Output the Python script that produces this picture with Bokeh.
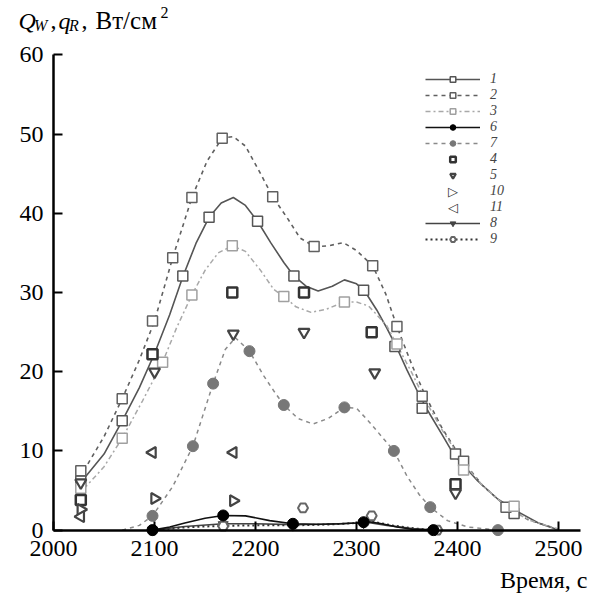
from bokeh.plotting import figure
from bokeh.models import Range1d, FixedTicker, Label, Legend, LegendItem
from bokeh.embed import file_html
from bokeh.resources import INLINE
import math

# ---------------- data ----------------
# smooth curves (sampled by eye)
c1_t = [2030, 2050, 2068, 2085, 2100, 2115, 2128, 2141, 2154, 2166, 2178, 2190, 2202, 2215, 2228, 2238,
        2250, 2262, 2276, 2288, 2300, 2308, 2320, 2330, 2340, 2350, 2360, 2370, 2385, 2396, 2420, 2440,
        2460, 2480, 2500]
c1_v = [6.5, 9.6, 13.8, 18.0, 22.3, 27.2, 32.0, 36.2, 39.5, 41.3, 42.0, 41.0, 39.0, 36.3, 33.8, 32.1,
        30.8, 30.2, 30.8, 31.6, 31.1, 30.2, 27.8, 25.5, 23.0, 20.2, 17.6, 15.2, 12.0, 9.6, 6.2, 3.9,
        2.3, 0.9, 0.0]
c2_t = [2030, 2050, 2068, 2085, 2100, 2118, 2137, 2152, 2167, 2178, 2190, 2205, 2217, 2232, 2244, 2258,
        2272, 2287, 2300, 2316, 2329, 2340, 2355, 2368, 2385, 2405, 2425, 2448, 2470, 2500]
c2_v = [7.5, 11.8, 16.6, 21.5, 26.4, 34.4, 42.0, 46.6, 49.5, 49.7, 48.5, 45.0, 42.1, 39.3, 36.9, 35.8,
        35.9, 36.3, 35.3, 33.4, 29.8, 25.7, 20.8, 17.0, 12.8, 8.8, 5.6, 3.0, 1.3, 0.1]
c3_t = [2030, 2050, 2068, 2088, 2108, 2122, 2137, 2150, 2163, 2177, 2190, 2205, 2218, 2228, 2240, 2255,
        2270, 2288, 2300, 2312, 2330, 2340, 2355, 2368, 2385, 2405, 2425, 2448, 2470, 2500]
c3_v = [5.2, 8.0, 11.6, 16.3, 21.2, 25.6, 29.7, 32.8, 35.0, 35.9, 35.2, 32.8, 30.4, 29.5, 28.2, 27.5,
        27.9, 28.8, 28.8, 28.3, 25.8, 23.4, 19.8, 16.4, 12.6, 8.6, 5.6, 3.0, 1.3, 0.1]
c6_t = [2098, 2115, 2130, 2150, 2168, 2190, 2214, 2237, 2260, 2285, 2300, 2310, 2325, 2340, 2355, 2376]
c6_v = [0.0, 0.4, 0.9, 1.5, 1.85, 1.8, 1.2, 0.8, 0.75, 0.8, 0.9, 1.1, 0.8, 0.4, 0.1, 0.0]
c7_t = [2068, 2085, 2098, 2118, 2138, 2158, 2170, 2180, 2194, 2208, 2218, 2228, 2242, 2257, 2272, 2288,
        2300, 2313, 2325, 2337, 2350, 2362, 2373, 2390, 2410, 2440]
c7_v = [0.0, 0.6, 1.8, 5.5, 10.6, 18.5, 22.8, 24.3, 22.6, 19.5, 17.6, 15.8, 14.1, 13.4, 14.1, 15.5,
        15.4, 13.6, 11.8, 10.0, 6.8, 4.5, 2.9, 1.2, 0.4, 0.0]
c8_t = [2098, 2130, 2168, 2200, 2237, 2270, 2300, 2310, 2330, 2355, 2378]
c8_v = [0.0, 0.45, 0.8, 0.8, 0.7, 0.75, 0.9, 1.0, 0.6, 0.2, 0.0]
c9_t = [2098, 2130, 2168, 2200, 2237, 2270, 2300, 2315, 2335, 2358, 2380]
c9_v = [0.0, 0.35, 0.55, 0.6, 0.6, 0.7, 0.9, 1.1, 0.6, 0.2, 0.0]

# measured points
m1_t = [2027, 2068, 2098, 2128, 2154, 2202, 2238, 2307, 2338, 2365, 2398, 2456]
m1_v = [6.2, 13.8, 22.2, 32.1, 39.5, 39.0, 32.1, 30.3, 23.2, 15.4, 9.6, 2.1]
m2_t = [2027, 2068, 2098, 2118, 2137, 2167, 2217, 2258, 2316, 2340, 2365, 2406, 2448]
m2_v = [7.5, 16.6, 26.4, 34.4, 42.0, 49.5, 42.1, 35.8, 33.4, 25.7, 16.9, 8.7, 2.9]
m3_t = [2027, 2068, 2108, 2137, 2177, 2228, 2288, 2340, 2406, 2456]
m3_v = [5.3, 11.6, 21.2, 29.7, 35.9, 29.5, 28.8, 23.5, 7.6, 3.0]
m6_t = [2098, 2168, 2237, 2307, 2376]
m6_v = [0.0, 1.85, 0.8, 1.0, 0.0]
m7_t = [2098, 2138, 2158, 2194, 2228, 2288, 2337, 2373, 2440]
m7_v = [1.8, 10.6, 18.5, 22.6, 15.8, 15.5, 10.0, 2.9, 0.0]
m4_t = [2027, 2098, 2177, 2248, 2315, 2398]
m4_v = [3.8, 22.2, 30.0, 30.0, 25.0, 5.8]
m5_t = [2027, 2100, 2178, 2248, 2318, 2398]
m5_v = [6.0, 20.0, 24.8, 25.0, 19.9, 4.7]
m10_t = [2027, 2100, 2178]
m10_v = [2.6, 4.0, 3.7]
m11_t = [2027, 2098, 2178]
m11_v = [1.7, 9.8, 9.8]
m8_t = [2098, 2168, 2237, 2307, 2378]
m8_v = [0.0, 0.7, 0.6, 0.9, 0.0]
m9_t = [2098, 2168, 2247, 2315, 2380]
m9_v = [0.0, 0.5, 2.8, 1.8, 0.0]

x_ticks = [2000, 2100, 2200, 2300, 2400, 2500]
y_ticks = [0, 10, 20, 30, 40, 50, 60]

# ---------------- figure ----------------
SERIF = "Liberation Serif"
W = H = 594
p = figure(width=W, height=H, output_backend="svg", toolbar_location=None,
           x_range=Range1d(1947.5, 2535.6), y_range=Range1d(-8.13, 66.88),
           min_border_left=0, min_border_right=0, min_border_top=0, min_border_bottom=0)
p.outline_line_color = None
p.grid.visible = False
p.background_fill_color = "white"
p.border_fill_color = "white"

for ax in (p.xaxis, p.yaxis):
    ax.axis_line_width = 2.5
    ax.axis_line_color = "black"
    ax.major_tick_line_width = 2
    ax.major_tick_line_color = "black"
    ax.major_tick_in = 9
    ax.major_tick_out = 0
    ax.minor_tick_line_color = None
    ax.major_label_text_font = SERIF
    ax.major_label_text_font_size = "24px"
    ax.major_label_text_color = "black"
p.xaxis.ticker = FixedTicker(ticks=x_ticks)
p.yaxis.ticker = FixedTicker(ticks=y_ticks)
p.xaxis.fixed_location = 0
p.yaxis.fixed_location = 2000
p.xaxis.bounds = (2000, 2522)
p.yaxis.bounds = (0, 60)
p.xaxis.major_label_standoff = 11
p.yaxis.major_label_standoff = 10

# ---------------- series ----------------
r1l = p.line(c1_t, c1_v, line_color="#555555", line_width=1.6)
r2l = p.line(c2_t, c2_v, line_color="#606060", line_width=1.6, line_dash="4 4")
r3l = p.line(c3_t, c3_v, line_color="#a8a8a8", line_width=1.5, line_dash="5 3 2 3")
r7l = p.line(c7_t, c7_v, line_color="#8a8a8a", line_width=1.5, line_dash="4 4")
r8l = p.line(c8_t, c8_v, line_color="#444444", line_width=1.6)
r9l = p.line(c9_t, c9_v, line_color="#333333", line_width=2, line_dash="2 3")
r6l = p.line(c6_t, c6_v, line_color="#111111", line_width=1.6)

r1m = p.scatter(m1_t, m1_v, marker="square", size=10, fill_color="white", line_color="#555555", line_width=1.5)
r2m = p.scatter(m2_t, m2_v, marker="square", size=10, fill_color="white", line_color="#606060", line_width=1.5)
r3m = p.scatter(m3_t, m3_v, marker="square", size=10, fill_color="white", line_color="#a0a0a0", line_width=1.5)
r4m = p.scatter(m4_t, m4_v, marker="square", size=10, fill_color="white", line_color="#333333", line_width=2.5)
r5m = p.scatter(m5_t, m5_v, marker="inverted_triangle", size=11, fill_color="white", line_color="#444444", line_width=2.2)
r10m = p.scatter(m10_t, m10_v, marker="triangle", angle=-math.pi / 2, size=11, fill_color="white",
                 line_color="#444444", line_width=2.2)
r11m = p.scatter(m11_t, m11_v, marker="triangle", angle=math.pi / 2, size=11, fill_color="white",
                 line_color="#444444", line_width=2.2)
r7m = p.scatter(m7_t, m7_v, marker="circle", size=11, fill_color="#777777", line_color="#777777")
r8m = p.scatter(m8_t, m8_v, marker="inverted_triangle", size=10, fill_color="#444444", line_color="#444444")
r9m = p.scatter(m9_t, m9_v, marker="hex", size=10, fill_color="white", line_color="#666666", line_width=2)
r6m = p.scatter(m6_t, m6_v, marker="circle", size=11, fill_color="black", line_color="black")
# invisible stand-ins for the rotated triangles in the legend (legend ignores marker angle)
r10d = p.scatter(m10_t, m10_v, size=1, fill_alpha=0, line_alpha=0)
r11d = p.scatter(m11_t, m11_v, size=1, fill_alpha=0, line_alpha=0)

LEG_X, LEG_TOP, ROW = 425, 523.5, 16
legend = Legend(items=[
    LegendItem(label="1", renderers=[r1l, r1m]),
    LegendItem(label="2", renderers=[r2l, r2m]),
    LegendItem(label="3", renderers=[r3l, r3m]),
    LegendItem(label="6", renderers=[r6l, r6m]),
    LegendItem(label="7", renderers=[r7l, r7m]),
    LegendItem(label="4", renderers=[r4m]),
    LegendItem(label="5", renderers=[r5m]),
    LegendItem(label="10", renderers=[r10d]),
    LegendItem(label="11", renderers=[r11d]),
    LegendItem(label="8", renderers=[r8l, r8m]),
    LegendItem(label="9", renderers=[r9l, r9m]),
], location=(LEG_X, LEG_TOP - 11 * ROW), orientation="vertical")
legend.border_line_color = None
legend.background_fill_alpha = 0
legend.padding = 0
legend.margin = 0
legend.spacing = 0
legend.glyph_width = 55
legend.glyph_height = 14
legend.label_height = 14
legend.label_standoff = 10
legend.label_text_font = SERIF
legend.label_text_font_style = "italic"
legend.label_text_font_size = "14px"
legend.label_text_line_height = 1.0
legend.label_text_baseline = "middle"
p.add_layout(legend)

# rotated-triangle symbols for legend rows 10 and 11
for sym, row in (("\u25B7", 7), ("\u25C1", 8)):
    p.add_layout(Label(x=LEG_X + 27.5, y=LEG_TOP - row * ROW - ROW / 2, x_units="screen", y_units="screen",
                       text=sym, text_font="DejaVu Sans", text_font_size="13px", text_font_style="bold",
                       text_color="#333333", text_align="center", text_baseline="middle"))


def lab(text, x, y, size, style="normal"):
    p.add_layout(Label(x=x, y=y, x_units="screen", y_units="screen", text=text,
                       text_font=SERIF, text_font_size=size, text_font_style=style,
                       text_color="black", text_baseline="alphabetic", text_align="left"))


# y-axis title: Q_W, q_R, Вт/см²
lab("Q", 18, 574, "24px", "italic")
lab("W", 33.5, 569, "16px", "italic")
lab(",", 50, 574, "24px")
lab("q", 58, 574, "24px", "italic")
lab("R", 68.5, 569, "16px", "italic")
lab(",", 81, 574, "24px")
lab("Вт/см", 95, 574, "25px")
lab("2", 160, 582, "16px")

# x-axis title
p.add_layout(Label(x=587, y=15, x_units="screen", y_units="screen", text="Время, с",
                   text_font=SERIF, text_font_size="24px", text_color="black",
                   text_align="right", text_baseline="alphabetic"))

open("out.html", "w").write(file_html(p, INLINE))
